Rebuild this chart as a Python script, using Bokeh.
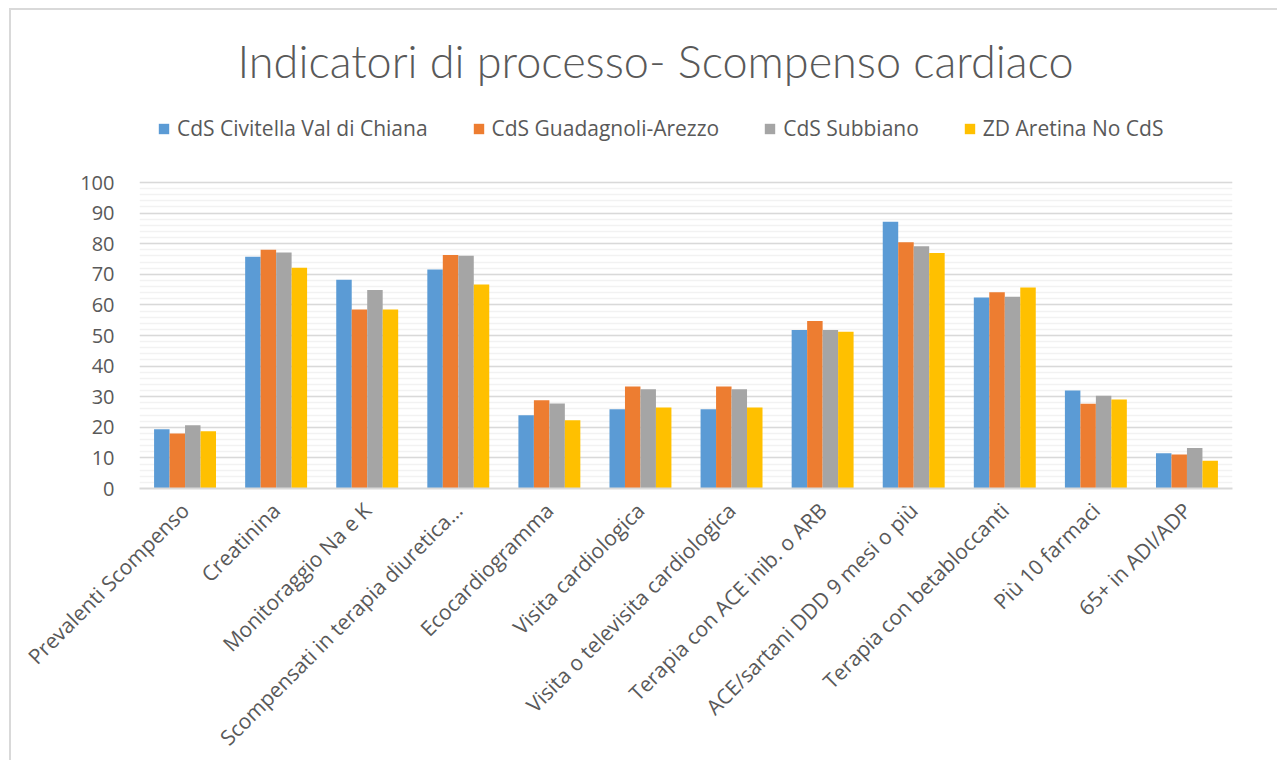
from bokeh.plotting import figure
from bokeh.models import (FactorRange, Range1d, FixedTicker, Legend, LegendItem, ColumnDataSource)
from bokeh.transform import dodge
from bokeh.embed import file_html
from bokeh.resources import INLINE
import math

categories = [
    "Prevalenti Scompenso", "Creatinina", "Monitoraggio Na e K",
    "Scompensati in terapia diuretica…", "Ecocardiogramma", "Visita cardiologica",
    "Visita o televisita cardiologica", "Terapia con ACE inib. o ARB",
    "ACE/sartani DDD 9 mesi o più", "Terapia con betabloccanti",
    "Più 10 farmaci", "65+ in ADI/ADP",
]
series_names = ["CdS Civitella Val di Chiana", "CdS Guadagnoli-Arezzo", "CdS Subbiano", "ZD Aretina No CdS"]
civitella = [19.4, 75.7, 68.2, 71.6, 23.9, 25.9, 25.9, 51.8, 87.2, 62.4, 32.0, 11.5]
guadagnoli = [18.0, 78.0, 58.5, 76.3, 28.8, 33.3, 33.3, 54.7, 80.5, 64.1, 27.7, 11.1]
subbiano = [20.7, 77.1, 64.9, 76.1, 27.8, 32.4, 32.4, 51.8, 79.2, 62.7, 30.3, 13.2]
zd_aretina = [18.7, 72.1, 58.5, 66.7, 22.3, 26.5, 26.5, 51.2, 77.0, 65.7, 29.1, 9.1]
y_ticks = [0, 10, 20, 30, 40, 50, 60, 70, 80, 90, 100]
y_minor_ticks = [v for v in range(0, 101, 2)]
colors = ["#5B9BD5", "#ED7D31", "#A5A5A5", "#FFC000"]

source = ColumnDataSource(dict(cat=categories, s0=civitella, s1=guadagnoli, s2=subbiano, s3=zd_aretina))

TFONT = "Lato Light"
FONT = "Open Sans"
TXT = "#595959"

FW, FH = 1093, 392
PLOT_H = 306  # pixel height of the 0..100 data band
p = figure(
    x_range=FactorRange(*categories, range_padding=0),
    y_range=Range1d(0, 100 * FH / PLOT_H),
    frame_width=FW, frame_height=FH,
    output_backend="svg", toolbar_location=None,
    min_border_left=128, min_border_right=45, min_border_top=86, min_border_bottom=266,
)
p.title.text = "Indicatori di processo- Scompenso cardiaco"
p.title.align = "left"
p.title.offset = 98
p.title.text_font = TFONT
p.title.text_font_size = "45px"
p.title.text_font_style = "normal"
p.title.text_color = TXT
p.title.standoff = 17

w = 0.17
offsets = [-1.5 * w, -0.5 * w, 0.5 * w, 1.5 * w]
items = []
for i, (nm, c) in enumerate(zip(series_names, colors)):
    r = p.vbar(x=dodge("cat", offsets[i], range=p.x_range), top=f"s{i}", width=w,
               source=source, fill_color=c, line_color=None)
    items.append(LegendItem(label=nm, renderers=[r]))

legend = Legend(items=items, orientation="horizontal", location=(18, 346),
                label_text_font=FONT, label_text_font_size="21px", label_text_color=TXT,
                glyph_width=13, glyph_height=13, label_standoff=7, spacing=44,
                border_line_color=None, background_fill_alpha=0, margin=0, padding=0)
p.add_layout(legend, "center")

p.outline_line_color = None
p.xgrid.grid_line_color = None
p.ygrid.grid_line_color = "#d9d9d9"
p.ygrid.grid_line_width = 1.5
p.ygrid.minor_grid_line_color = "#f2f2f2"
p.ygrid.minor_grid_line_width = 1.5
p.yaxis.ticker = FixedTicker(ticks=y_ticks, minor_ticks=y_minor_ticks)
p.yaxis.axis_line_color = None
p.yaxis.major_tick_line_color = None
p.yaxis.minor_tick_line_color = None
p.yaxis.major_label_text_font = FONT
p.yaxis.major_label_text_font_size = "20px"
p.yaxis.major_label_text_color = TXT
p.yaxis.major_label_standoff = 19

p.xaxis.axis_line_color = "#d9d9d9"
p.xaxis.axis_line_width = 2
p.xaxis.major_tick_line_color = None
p.xaxis.minor_tick_line_color = None
p.xaxis.major_label_orientation = math.pi / 4
p.xaxis.major_label_text_font = FONT
p.xaxis.major_label_text_font_size = "21px"
p.xaxis.major_label_text_color = TXT
p.xaxis.major_label_standoff = 12

p.styles = {"border-top": "2px solid #d9d9d9", "border-left": "2px solid #d9d9d9",
            "margin-left": "9px", "margin-top": "8px"}

open("out.html", "w").write(file_html(p, INLINE))
